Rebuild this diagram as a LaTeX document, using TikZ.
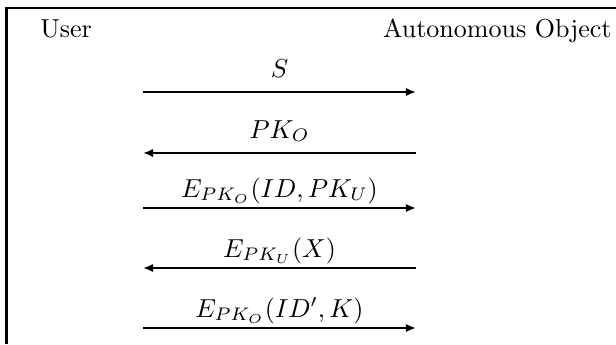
\documentclass[tikz,border=0pt]{standalone}
\usetikzlibrary{arrows.meta}
\begin{document}
\begin{tikzpicture}[x=0.3846pt,y=-0.3846pt,
  frame/.style={line width=1pt},
  msg/.style={line width=0.75pt,-{Latex[length=3.9pt,width=3.2pt]}},
  lbl/.style={anchor=base,inner sep=0pt}]
\useasboundingbox (0,0) rectangle (616,344);
\coordinate (fb) at (6.5,344);
\coordinate (ftl) at (6.5,8);
\coordinate (ftr) at (616,8);
\draw[frame] (fb) -- (ftl) -- (ftr);
\node[lbl] (user) at (66,37) {User};
\node[lbl,anchor=base east] (obj) at (612,37) {Autonomous Object};
\foreach \i/\y in {1/92,2/153,3/208,4/268,5/328}{
  \coordinate (u\i) at (143,\y);
  \coordinate (o\i) at (416,\y);
}
\draw[msg] (u1) -- (o1);
\draw[msg] (o2) -- (u2);
\draw[msg] (u3) -- (o3);
\draw[msg] (o4) -- (u4);
\draw[msg] (u5) -- (o5);
\node[lbl] (l1) at (279.5,77) {$S$};
\node[lbl] (l2) at (279.5,138) {$PK_O$};
\node[lbl] (l3) at (279.5,197) {$E_{PK_O}(ID,PK_U)$};
\node[lbl] (l4) at (279.5,257) {$E_{PK_U}(X)$};
\node[lbl] (l5) at (279.5,317) {$E_{PK_O}(ID',K)$};
\end{tikzpicture}
\end{document}
